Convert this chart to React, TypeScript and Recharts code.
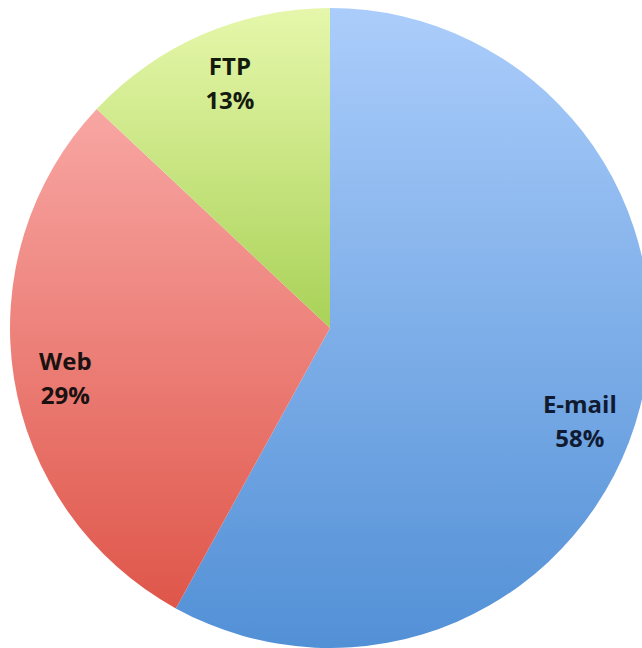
import { Pie, PieChart, Cell } from "recharts";

const protocols = ["E-mail", "Web", "FTP"];
const shares = [58, 29, 13];

const fills = [
  { id: "gBlue", top: "#abcdfb", bottom: "#5290d6" },
  { id: "gRed", top: "#f8a6a3", bottom: "#df564a" },
  { id: "gGreen", top: "#e6f7ab", bottom: "#a9d257" },
];
const labelInk = ["#101a30", "#1a1210", "#141a0e"];

const data = protocols.map((name, i) => ({ name, value: shares[i] }));
const RADIAN = Math.PI / 180;

// tweak per-slice label placement to match the original
const labelRadius = [0.806, 0.8375, 0.7875];
const labelShift = [31, 10, -12];

function SliceLabel(props: any) {
  const { cx, cy, midAngle, outerRadius, name, value, index } = props;
  const r = outerRadius * labelRadius[index];
  const x = cx + r * Math.cos(-midAngle * RADIAN);
  const y = cy + r * Math.sin(-midAngle * RADIAN) + labelShift[index];
  return (
    <text x={x} y={y} textAnchor="middle" fill={labelInk[index]} fontFamily="Open Sans" fontWeight={700} fontSize={24}>
      <tspan x={x} dy={-10}>{name}</tspan>
      <tspan x={x} dy={34}>{value}%</tspan>
    </text>
  );
}

export default function App() {
  return (
    <div style={{ position: "absolute", left: 0, top: 0, width: 642, height: 648, background: "#fff" }}>
      <PieChart width={642} height={648} margin={{ top: 0, right: 0, bottom: 0, left: 0 }}>
        <defs>
          {fills.map((f) => (
            <linearGradient key={f.id} id={f.id} x1="0" y1="0" x2="0" y2="1">
              <stop offset="0%" stopColor={f.top} />
              <stop offset="100%" stopColor={f.bottom} />
            </linearGradient>
          ))}
        </defs>
        <Pie
          data={data}
          dataKey="value"
          nameKey="name"
          cx={330}
          cy={328}
          outerRadius={320}
          startAngle={90}
          endAngle={-270}
          stroke="none"
          labelLine={false}
          label={SliceLabel}
          isAnimationActive={false}
        >
          {data.map((d, i) => (
            <Cell key={d.name} fill={`url(#${fills[i].id})`} />
          ))}
        </Pie>
      </PieChart>
    </div>
  );
}
